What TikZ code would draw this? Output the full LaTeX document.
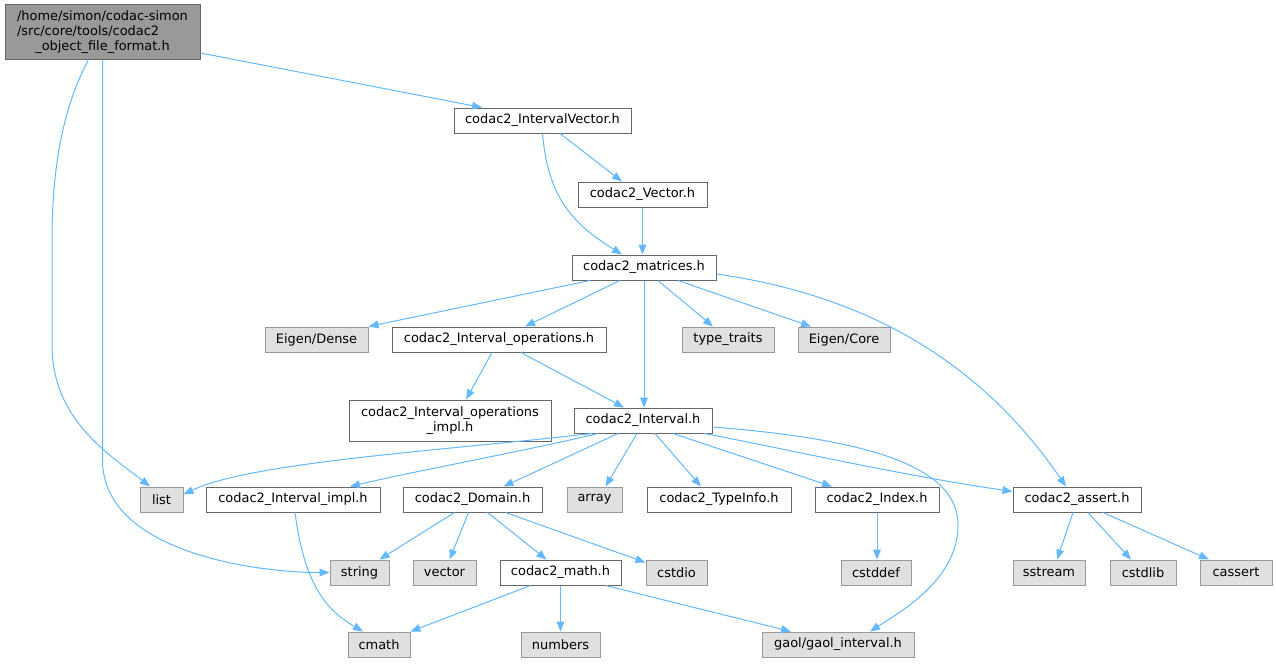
\documentclass[tikz,border=0pt]{standalone}
\usepackage{fontspec}
\setmainfont{DejaVu Sans}
\usepackage{tikz}
\usetikzlibrary{arrows.meta}
\definecolor{edgeblue}{HTML}{63B8FF}
\definecolor{greyforty}{HTML}{666666}
\definecolor{greysixty}{HTML}{999999}
\definecolor{extfill}{HTML}{E0E0E0}
\renewcommand{\arraystretch}{1}
\tikzset{
  hbox/.style={draw=greyforty, fill=white, line width=0.75pt, inner sep=0pt,
    minimum height=18.75pt, font=\fontsize{9.7}{11.25}\selectfont},
  rootbox/.style={hbox, fill=greysixty, minimum height=41.25pt},
  sysbox/.style={hbox, draw=greysixty, fill=extfill},
  wd/.style={minimum width=#1*0.75pt},
  dep/.style={draw=edgeblue, line width=0.75pt, -{Triangle[length=7.5pt,width=5.8pt]}}
}

\begin{document}
\begin{tikzpicture}[x=0.75pt, y=-0.75pt]
    \useasboundingbox (0,0) rectangle (1276,667);
    % top of the graph
    \node[rootbox, wd=195] (root) at (102.5,32.5) {\begin{tabular}{@{}l@{}}/home/simon/codac-simon\\/src/core/tools/codac2\\\multicolumn{1}{@{}c@{}}{\_object\_file\_format.h}\end{tabular}};
    \node[hbox, wd=177] (ivec) at (542.5,120.5) {codac2\_IntervalVector.h};
    \node[hbox, wd=129] (vec) at (642.5,194.5) {codac2\_Vector.h};
    \node[hbox, wd=144] (mat) at (644,267.5) {codac2\_matrices.h};
    % row of matrices.h includes
    \node[sysbox, wd=103] (dense) at (316.5,339.5) {Eigen/Dense};
    \node[hbox, wd=214] (iops) at (499,339.5) {codac2\_Interval\_operations.h};
    \node[sysbox, wd=92] (ttraits) at (728,339.5) {type\_traits};
    \node[sysbox, wd=92] (core) at (844,339.5) {Eigen/Core};
    \node[hbox, wd=202, minimum height=30.75pt] (iopsimpl) at (450,420.5) {\begin{tabular}{@{}l@{}}codac2\_Interval\_operations\\\multicolumn{1}{@{}c@{}}{\_impl.h}\end{tabular}};
    \node[hbox, wd=138] (itv) at (643,420.5) {codac2\_Interval.h};
    % row of Interval.h includes
    \node[sysbox, wd=43] (list) at (161.5,499.5) {list};
    \node[hbox, wd=174] (iimpl) at (293,499.5) {codac2\_Interval\_impl.h};
    \node[hbox, wd=139] (dom) at (472.5,499.5) {codac2\_Domain.h};
    \node[sysbox, wd=55] (array) at (594.5,499.5) {array};
    \node[hbox, wd=144] (tinfo) at (719,499.5) {codac2\_TypeInfo.h};
    \node[hbox, wd=124] (idx) at (877,499.5) {codac2\_Index.h};
    \node[hbox, wd=128] (assert) at (1077,499.5) {codac2\_assert.h};
    % next row
    \node[sysbox, wd=59] (string) at (359.5,572.5) {string};
    \node[sysbox, wd=63] (vector) at (444.5,572.5) {vector};
    \node[hbox, wd=121] (math) at (560.5,572.5) {codac2\_math.h};
    \node[sysbox, wd=61] (cstdio) at (676.5,572.5) {cstdio};
    \node[sysbox, wd=70] (cstddef) at (876,572.5) {cstddef};
    \node[sysbox, wd=72] (sstream) at (1049,572.5) {sstream};
    \node[sysbox, wd=66] (cstdlib) at (1143,572.5) {cstdlib};
    \node[sysbox, wd=72] (cassert) at (1236,572.5) {cassert};
    % bottom row
    \node[sysbox, wd=62] (cmath) at (379,644.5) {cmath};
    \node[sysbox, wd=79] (numbers) at (560.5,644.5) {numbers};
    \node[sysbox, wd=152] (gaol) at (838,644.5) {gaol/gaol\_interval.h};

    % edges
    \draw[dep] ([shift={(0,20.5)}]root.east) -- ([shift={(-60.5,0)}]ivec.north);
    \draw[dep] ([shift={(-14.5,0)}]root.south) .. controls (62,110) and (52,170) .. (52,240) -- (52,345) .. controls (52,420) and (110,455) .. ([shift={(-11.5,0)}]list.north);
    \draw[dep] (root.south) -- (102.5,460) .. controls (102.5,550) and (250,572.5) .. (string.west);
    \draw[dep] ([shift={(17.5,0)}]ivec.south) -- ([shift={(-20.5,0)}]vec.north);
    \draw[dep] (ivec.south) .. controls (548,200) and (575,225) .. ([shift={(-22,0)}]mat.north);
    \draw[dep] (vec.south) -- (vec.south |- mat.north);
    \draw[dep] ([shift={(-54,0)}]mat.south) -- (dense.north east);
    \draw[dep] ([shift={(-24,0)}]mat.south) -- ([shift={(26,0)}]iops.north);
    \draw[dep] ([shift={(14,0)}]mat.south) -- ([shift={(-15,0)}]ttraits.north);
    \draw[dep] ([shift={(34,0)}]mat.south) -- ([shift={(-33,0)}]core.north);
    \draw[dep] (mat.south) -- (mat.south |- itv.north);
    \draw[dep] ([shift={(0,6.5)}]mat.east) .. controls (900,300) and (1000,390) .. ([shift={(-11,0)}]assert.north);
    \draw[dep] ([shift={(-7,0)}]iops.south) -- ([shift={(16,0)}]iopsimpl.north);
    \draw[dep] ([shift={(22,0)}]iops.south) -- ([shift={(-19,0)}]itv.north);
    \draw[dep] ([shift={(-51,0)}]itv.south) .. controls (450,450) and (250,462) .. ([shift={(0,-5)}]list.east);
    \draw[dep] ([shift={(-45,0)}]itv.south) .. controls (520,452) and (420,470) .. ([shift={(57,0)}]iimpl.north);
    \draw[dep] ([shift={(-25,0)}]itv.south) -- ([shift={(31,0)}]dom.north);
    \draw[dep] ([shift={(-6,0)}]itv.south) -- ([shift={(11,0)}]array.north);
    \draw[dep] ([shift={(12,0)}]itv.south) -- ([shift={(-18,0)}]tinfo.north);
    \draw[dep] ([shift={(30,0)}]itv.south) -- ([shift={(-45,0)}]idx.north);
    \draw[dep] ([shift={(-8,0)}]itv.south east) .. controls (800,452) and (900,475) .. ([shift={(0,-8)}]assert.west);
    \draw[dep] ([shift={(0,6.5)}]itv.east) .. controls (880,440) and (958,470) .. (958,525) .. controls (958,580) and (900,612) .. ([shift={(32,0)}]gaol.north);
    \draw[dep] ([shift={(2,0)}]iimpl.south) .. controls (305,590) and (330,612) .. ([shift={(-16,0)}]cmath.north);
    \draw[dep] ([shift={(-18,0)}]dom.south) -- ([shift={(20,0)}]string.north);
    \draw[dep] ([shift={(-4,0)}]dom.south) -- ([shift={(5,0)}]vector.north);
    \draw[dep] ([shift={(15,0)}]dom.south) -- ([shift={(-14,0)}]math.north);
    \draw[dep] ([shift={(33,0)}]dom.south) -- ([shift={(0,3)}]cstdio.north west);
    \draw[dep] ([shift={(-30,0)}]math.south) -- (cmath.north east);
    \draw[dep] (math.south) -- (numbers.north);
    \draw[dep] ([shift={(45,0)}]math.south) -- ([shift={(-47,0)}]gaol.north);
    \draw[dep] (idx.south) -- (idx.south |- cstddef.north);
    \draw[dep] ([shift={(-4,0)}]assert.south) -- ([shift={(8,0)}]sstream.north);
    \draw[dep] ([shift={(11,0)}]assert.south) -- ([shift={(-12,0)}]cstdlib.north);
    \draw[dep] ([shift={(26,0)}]assert.south) -- ([shift={(-27,0)}]cassert.north);
\end{tikzpicture}
\end{document}
